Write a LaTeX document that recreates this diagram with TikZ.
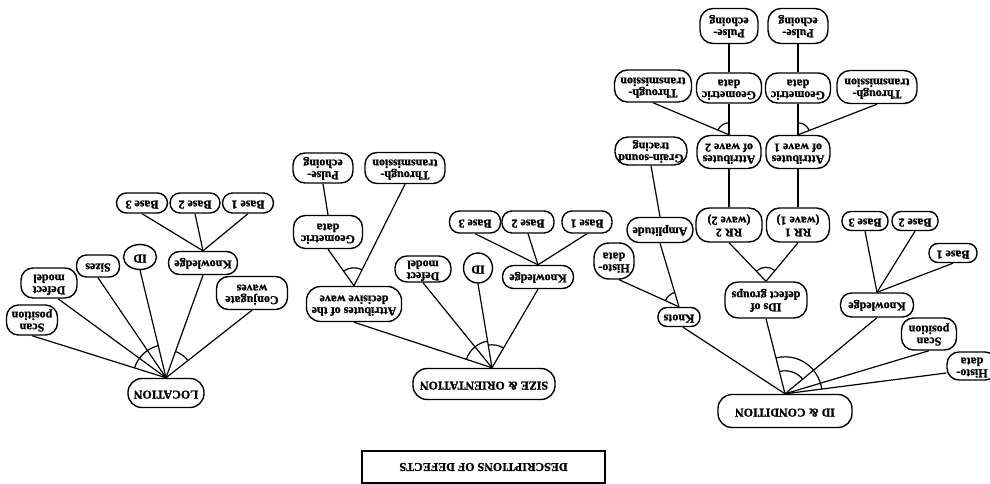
\documentclass[tikz,border=0pt]{standalone}
\usepackage{fontspec}
\setmainfont{Liberation Serif}[FakeBold=1.2]
\usepackage{graphicx}
\usetikzlibrary{shapes.geometric}
\pgfdeclarelayer{bg}
\pgfdeclarelayer{paper}
\pgfsetlayers{paper,bg,main}
\newcommand\udt[1]{\rotatebox{180}{\begin{tabular}{@{}c@{}}#1\end{tabular}}}
\begin{document}
\begin{tikzpicture}[x=1pt,y=-1pt,
  nd/.style={draw, fill=white, line width=1.4pt, rounded corners=#1, inner sep=0pt, font=\fontsize{12}{11.5}\selectfont\bfseries},
  nd/.default=9pt,
  ov/.style={draw, fill=white, ellipse, line width=1.4pt, inner sep=0pt, font=\fontsize{12}{11.5}\selectfont\bfseries},
  sz/.style 2 args={minimum width=#1pt, minimum height=#2pt},
  ln/.style={line width=1.2pt}]
\useasboundingbox (0,0) rectangle (990,484);
\begin{pgfonlayer}{paper}
\fill[white] (0,0) rectangle (990,484);
\end{pgfonlayer}

% ---------- LOCATION ----------
\node[nd=14pt, sz={76}{29}] (loc) at (166,393) {\udt{LOCATION}};
\node[nd=12pt, sz={51}{30}] (lscan) at (32,320) {\udt{Scan\\position}};
\node[nd=12pt, sz={56}{30}] (ldef) at (49,283) {\udt{Defect\\model}};
\node[nd=10pt, sz={43}{22}] (lsize) at (98,266) {\udt{Sizes}};
\node[ov, sz={33}{25}] (lid) at (140,257) {\udt{ID}};
\node[nd=11pt, sz={69}{23}] (lkn) at (203,263) {\udt{Knowledge}};
\node[nd=12pt, sz={71}{33}] (lconj) at (252,293) {\udt{Conjugate\\waves}};
\node[nd=10pt, sz={51}{20}] (lb3) at (142,203) {\udt{Base 3}};
\node[nd=10pt, sz={50}{20}] (lb2) at (195,203) {\udt{Base 2}};
\node[nd=10pt, sz={51}{20}] (lb1) at (248,203) {\udt{Base 1}};

% ---------- SIZE & ORIENTATION ----------
\node[nd=14pt, sz={142}{31}] (so) at (484,384) {\udt{SIZE \& ORIENTATION}};
\coordinate (sroot) at ([xshift=8pt]so.north);
\node[nd=14pt, sz={95}{35}] (sattr) at (354,304) {\udt{Attributes of the\\decisive wave}};
\node[nd=12pt, sz={56}{26}] (sdef) at (423,269) {\udt{Defect\\model}};
\node[ov, sz={29}{30}] (sid) at (478,268) {\udt{ID}};
\node[nd=11pt, sz={71}{23}] (skn) at (538,277) {\udt{Knowledge}};
\node[nd=10pt, sz={51}{22}] (sb3) at (475,222) {\udt{Base 3}};
\node[nd=10pt, sz={52}{22}] (sb2) at (528,222) {\udt{Base 2}};
\node[nd=10pt, sz={50}{22}] (sb1) at (587,222) {\udt{Base 1}};
\node[nd=12pt, sz={69}{33}] (sgeo) at (328,232) {\udt{Geometric\\data}};
\node[nd=12pt, sz={80}{31}] (sthr) at (405,168) {\udt{Through-\\transmission}};
\node[nd=12pt, sz={60}{30}] (spul) at (323,168) {\udt{Pulse-\\echoing}};

% ---------- ID & CONDITION ----------
\node[nd=14pt, sz={134}{33}] (ic) at (785,411) {\udt{ID \& CONDITION}};
\node[nd=12pt, sz={50}{28}] (ihis) at (972,366) {\udt{Histo-\\data}};
\node[nd=12pt, sz={55}{32}] (iscan) at (929,334) {\udt{Scan\\position}};
\node[nd=11pt, sz={73}{24}] (ikn) at (877,305) {\udt{Knowledge}};
\node[nd=9pt, sz={48}{19}] (ib1) at (953,253) {\udt{Base 1}};
\node[nd=9pt, sz={46}{19}] (ib2) at (915,221) {\udt{Base 2}};
\node[nd=9pt, sz={46}{19}] (ib3) at (865,221) {\udt{Base 3}};
\node[nd=13pt, sz={82}{36}] (iids) at (766,300) {\udt{IDs of\\defect groups}};
\node[nd=13pt, sz={63}{34}] (irr1) at (798,225) {\udt{RR 1\\(wave 1)}};
\node[nd=13pt, sz={66}{34}] (irr2) at (729,225) {\udt{RR 2\\(wave 2)}};
\node[nd=9pt, sz={42}{19}] (iknots) at (679,317) {\udt{Knots}};
\node[nd=15pt, sz={40}{36}] (ihisto) at (614,261) {\udt{Histo-\\data}};
\node[nd=12pt, sz={66}{25}] (iamp) at (660,230) {\udt{Amplitude}};
\node[nd=13pt, sz={72}{28}] (igrain) at (651,151) {\udt{Grain-sound\\tracing}};
\node[nd=13pt, sz={64}{33}] (iattr1) at (798,152) {\udt{Attributes\\of wave 1}};
\node[nd=13pt, sz={64}{33}] (iattr2) at (729,152) {\udt{Attributes\\of wave 2}};
\node[nd=12pt, sz={65}{30}] (igeo1) at (798,88) {\udt{Geometric\\data}};
\node[nd=13pt, sz={80}{33}] (ithr1) at (877,87) {\udt{Through-\\transmission}};
\node[nd=13pt, sz={60}{35}] (ipul1) at (798,26) {\udt{Pulse-\\echoing}};
\node[nd=12pt, sz={65}{30}] (igeo2) at (729,88) {\udt{Geometric\\data}};
\node[nd=13pt, sz={77}{32}] (ithr2) at (653,86) {\udt{Through-\\transmission}};
\node[nd=13pt, sz={58}{35}] (ipul2) at (729,26) {\udt{Pulse-\\echoing}};

% ---------- title ----------
\node[draw, line width=1.4pt, sz={243}{32}, inner sep=0pt, font=\fontsize{12}{11}\selectfont\bfseries] (title) at (483.5,467) {\rotatebox{180}{DESCRIPTIONS OF DEFECTS}};

\begin{pgfonlayer}{bg}
% LOCATION
\draw[ln] (loc.north) -- (lscan.south);
\draw[ln] (loc.north) -- ([xshift=9pt]ldef.south);
\draw[ln] (loc.north) -- (lsize.south);
\draw[ln] (loc.north) -- (lid.south);
\draw[ln] (loc.north) -- (lkn.south);
\draw[ln] (loc.north) -- (lconj.south);
\draw[ln] (lkn.north) -- (lb3.south);
\draw[ln] (lkn.north) -- (lb2.south);
\draw[ln] (lkn.north) -- (lb1.south);
\draw[ln] (loc.north) ++(-162:33) arc[start angle=-162, end angle=-103.4, radius=33];
\draw[ln] (loc.north) ++(-70.4:28) arc[start angle=-70.4, end angle=-38.7, radius=28];
% SIZE & ORIENTATION
\draw[ln] (sroot) -- (sattr.south);
\draw[ln] (sroot) -- (sdef.south);
\draw[ln] (sroot) -- (sid.south);
\draw[ln] (sroot) -- (skn.south);
\draw[ln] (skn.north) -- (sb3.south);
\draw[ln] (skn.north) -- (sb2.south);
\draw[ln] (skn.north) -- (sb1.south);
\draw[ln] (sattr.north) -- (sgeo.south);
\draw[ln] (sattr.north) -- (sthr.south);
\draw[ln] (sgeo.north) -- (spul.south);
\draw[ln] (sroot) ++(-161.2:27) arc[start angle=-161.2, end angle=-99.3, radius=27];
\draw[ln] (sroot) ++(-99.3:23) arc[start angle=-99.3, end angle=-60.1, radius=23];
\draw[ln] (sattr.north) ++(-124.4:18) arc[start angle=-124.4, end angle=-63.7, radius=18];
% ID & CONDITION
\draw[ln] (ic.north) -- ([yshift=-7pt]ihis.west);
\draw[ln] (ic.north) -- (iscan.south);
\draw[ln] (ic.north) -- (ikn.south);
\draw[ln] (ic.north) -- (iids.south);
\draw[ln] (ic.north) -- ([xshift=4pt]iknots.south);
\draw[ln] (ikn.north) -- (ib1.south);
\draw[ln] (ikn.north) -- (ib2.south);
\draw[ln] (ikn.north) -- (ib3.south);
\draw[ln] (iids.north) -- (irr1.south);
\draw[ln] (iids.north) -- (irr2.south);
\draw[ln] (irr1.north) -- (iattr1.south);
\draw[ln] (irr2.north) -- (iattr2.south);
\draw[ln] (iattr1.north) -- (igeo1.south);
\draw[ln] (iattr1.north) -- (ithr1.south);
\draw[ln] (iattr2.north) -- (igeo2.south);
\draw[ln] (iattr2.north) -- (ithr2.south);
\draw[ln] (igeo1.north) -- (ipul1.south);
\draw[ln] (igeo2.north) -- (ipul2.south);
\draw[ln] (iknots.north) -- ([xshift=5pt]ihisto.south);
\draw[ln] (iknots.north) -- (iamp.south);
\draw[ln] (iamp.north) -- (igrain.south);
\draw[ln] (ic.north) ++(-103.9:37) arc[start angle=-103.9, end angle=-7.6, radius=37];
\draw[ln] (ic.north) ++(-103.9:23) arc[start angle=-103.9, end angle=-40.1, radius=23];
\draw[ln] (iids.north) ++(-132:14) arc[start angle=-132, end angle=-51.3, radius=14];
\draw[ln] (iknots.north) ++(-154.6:15) arc[start angle=-154.6, end angle=-106.3, radius=15];
\draw[ln] (iattr1.north) ++(-90:12) arc[start angle=-90, end angle=-22.1, radius=12];
\draw[ln] (iattr2.north) ++(-156.2:12) arc[start angle=-156.2, end angle=-90, radius=12];
\end{pgfonlayer}
\end{tikzpicture}
\end{document}
